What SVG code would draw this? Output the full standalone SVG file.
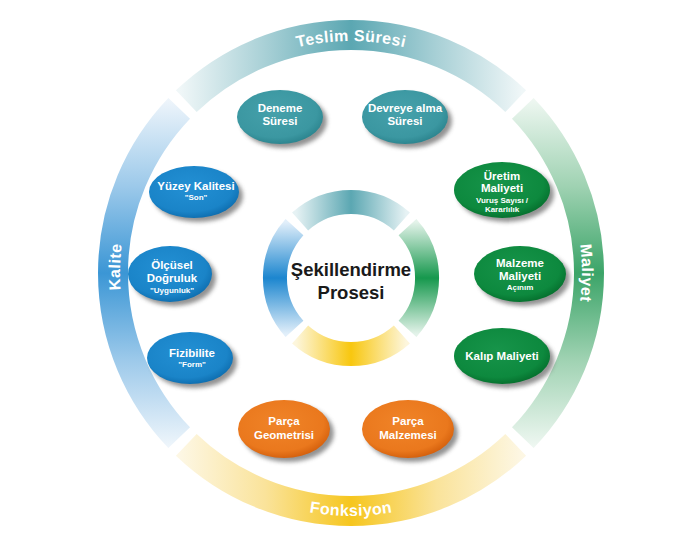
<svg xmlns="http://www.w3.org/2000/svg" xmlns:xlink="http://www.w3.org/1999/xlink" width="700" height="540" viewBox="0 0 700 540">
<style>
.ring{fill:none;stroke-width:30}
.iring{fill:none;stroke-width:24}
.rl{font-family:"Liberation Sans",Arial,sans-serif;font-weight:bold;font-size:16px;fill:#ffffff;letter-spacing:0.4px}
.t{font-family:"Liberation Sans",Arial,sans-serif;font-weight:bold;font-size:11.5px;fill:#ffffff;text-anchor:middle}
.s{font-family:"Liberation Sans",Arial,sans-serif;font-weight:bold;font-size:8px;fill:#ffffff;text-anchor:middle}
.c{font-family:"Liberation Sans",Arial,sans-serif;font-weight:bold;font-size:18.5px;fill:#1a1a1a;text-anchor:middle}
.sh{fill:#6e6e6e;opacity:0.75;filter:url(#blur)}
</style>
<defs>
<filter id="blur" x="-20%" y="-20%" width="140%" height="140%"><feGaussianBlur stdDeviation="2"/></filter>
<linearGradient id="gTop" gradientUnits="userSpaceOnUse" x1="180" y1="0" x2="522" y2="0">
<stop offset="0" stop-color="#f0f7f8"/><stop offset="0.25" stop-color="#a8d0d6"/><stop offset="0.5" stop-color="#5ba7b2"/><stop offset="0.75" stop-color="#a8d0d6"/><stop offset="1" stop-color="#f0f7f8"/>
</linearGradient>
<linearGradient id="gLeft" gradientUnits="userSpaceOnUse" x1="0" y1="100" x2="0" y2="446">
<stop offset="0" stop-color="#eef5fb"/><stop offset="0.25" stop-color="#9cc9ea"/><stop offset="0.5" stop-color="#3b96d5"/><stop offset="0.75" stop-color="#9cc9ea"/><stop offset="1" stop-color="#eef5fb"/>
</linearGradient>
<linearGradient id="gRight" gradientUnits="userSpaceOnUse" x1="0" y1="100" x2="0" y2="446">
<stop offset="0" stop-color="#eef7f1"/><stop offset="0.25" stop-color="#9fd2b2"/><stop offset="0.5" stop-color="#3ba468"/><stop offset="0.75" stop-color="#9fd2b2"/><stop offset="1" stop-color="#eef7f1"/>
</linearGradient>
<linearGradient id="gBot" gradientUnits="userSpaceOnUse" x1="180" y1="0" x2="522" y2="0">
<stop offset="0" stop-color="#fdf7e4"/><stop offset="0.25" stop-color="#fae39a"/><stop offset="0.5" stop-color="#f6c61e"/><stop offset="0.75" stop-color="#fae39a"/><stop offset="1" stop-color="#fdf7e4"/>
</linearGradient>
<linearGradient id="iTop" gradientUnits="userSpaceOnUse" x1="296" y1="0" x2="406" y2="0">
<stop offset="0" stop-color="#e6f2f4"/><stop offset="0.5" stop-color="#5ba7b2"/><stop offset="1" stop-color="#e6f2f4"/>
</linearGradient>
<linearGradient id="iLeft" gradientUnits="userSpaceOnUse" x1="0" y1="222" x2="0" y2="334">
<stop offset="0" stop-color="#e2effa"/><stop offset="0.5" stop-color="#1c86cf"/><stop offset="1" stop-color="#e2effa"/>
</linearGradient>
<linearGradient id="iRight" gradientUnits="userSpaceOnUse" x1="0" y1="222" x2="0" y2="334">
<stop offset="0" stop-color="#e4f3ea"/><stop offset="0.5" stop-color="#16984d"/><stop offset="1" stop-color="#e4f3ea"/>
</linearGradient>
<linearGradient id="iBot" gradientUnits="userSpaceOnUse" x1="296" y1="0" x2="406" y2="0">
<stop offset="0" stop-color="#fdf6dc"/><stop offset="0.5" stop-color="#f8c70f"/><stop offset="1" stop-color="#fdf6dc"/>
</linearGradient>
<radialGradient id="eTeal" cx="0.45" cy="0.4" r="0.6"><stop offset="0" stop-color="#46a1ab"/><stop offset="0.8" stop-color="#3b97a1"/><stop offset="1" stop-color="#2d8690"/></radialGradient>
<radialGradient id="eBlue" cx="0.45" cy="0.4" r="0.6"><stop offset="0" stop-color="#2390d4"/><stop offset="0.8" stop-color="#1a84c8"/><stop offset="1" stop-color="#0f70b2"/></radialGradient>
<radialGradient id="eGreen" cx="0.45" cy="0.4" r="0.6"><stop offset="0" stop-color="#17944a"/><stop offset="0.8" stop-color="#0d893e"/><stop offset="1" stop-color="#06722f"/></radialGradient>
<radialGradient id="eOrange" cx="0.45" cy="0.4" r="0.6"><stop offset="0" stop-color="#f08428"/><stop offset="0.8" stop-color="#ea781d"/><stop offset="1" stop-color="#d6620e"/></radialGradient>
<path id="pTop" d="M133,193.7 A232,232 0 0 1 569,193.7"/>
<path id="pBot" d="M122.7,356.1 A243,243 0 0 0 579.3,356.1"/>
<path id="pLeft" d="M202.5,449.9 A231,231 0 0 1 202.5,96.1"/>
<path id="pRight" d="M499.5,96.1 A231,231 0 0 1 499.5,449.9"/>
</defs>
<rect width="700" height="540" fill="#ffffff"/>

<g id="outer-ring">
<path class="ring" stroke="url(#gTop)" d="M186.3,101.2 A238,238 0 0 1 515.7,101.2"/>
<path class="ring" stroke="url(#gRight)" d="M522.8,108.3 A238,238 0 0 1 522.8,437.7"/>
<path class="ring" stroke="url(#gBot)" d="M515.7,444.8 A238,238 0 0 1 186.3,444.8"/>
<path class="ring" stroke="url(#gLeft)" d="M179.2,437.7 A238,238 0 0 1 179.2,108.3"/>
<text class="rl"><textPath href="#pTop" startOffset="50%" text-anchor="middle">Teslim Süresi</textPath></text>
<text class="rl"><textPath href="#pBot" startOffset="50%" text-anchor="middle">Fonksiyon</textPath></text>
<text class="rl"><textPath href="#pLeft" startOffset="51.5%" text-anchor="middle">Kalite</textPath></text>
<text class="rl"><textPath href="#pRight" startOffset="50%" text-anchor="middle">Maliyet</textPath></text>
</g>

<g id="center">
<path class="iring" stroke="url(#iTop)" d="M300.1,221.5 A76,76 0 0 1 401.9,221.5"/>
<path class="iring" stroke="url(#iRight)" d="M407.5,227.1 A76,76 0 0 1 407.5,328.9"/>
<path class="iring" stroke="url(#iBot)" d="M401.9,334.5 A76,76 0 0 1 300.1,334.5"/>
<path class="iring" stroke="url(#iLeft)" d="M294.5,328.9 A76,76 0 0 1 294.5,227.1"/>
<text class="c" x="351" y="276">Şekillendirme</text>
<text class="c" x="351" y="299">Prosesi</text>
</g>

<g id="deneme">
<ellipse class="sh" cx="284" cy="121" rx="43" ry="27"/>
<ellipse cx="280" cy="117" rx="43" ry="27" fill="url(#eTeal)"/>
<text class="t" x="280" y="112">Deneme</text>
<text class="t" x="280" y="125">Süresi</text>
</g>
<g id="devreye">
<ellipse class="sh" cx="409" cy="121" rx="43" ry="27"/>
<ellipse cx="405" cy="117" rx="43" ry="27" fill="url(#eTeal)"/>
<text class="t" x="405" y="112">Devreye alma</text>
<text class="t" x="405" y="125">Süresi</text>
</g>

<g id="yuzey">
<ellipse class="sh" cx="198" cy="196" rx="45" ry="26"/>
<ellipse cx="194" cy="192" rx="45" ry="26" fill="url(#eBlue)"/>
<text class="t" x="196" y="190">Yüzey Kalitesi</text>
<text class="s" x="196" y="200">"Son"</text>
</g>
<g id="olcusel">
<ellipse class="sh" cx="174" cy="278" rx="42" ry="28"/>
<ellipse cx="170" cy="274" rx="42" ry="28" fill="url(#eBlue)"/>
<text class="t" x="172" y="269">Ölçüsel</text>
<text class="t" x="172" y="282">Doğruluk</text>
<text class="s" x="172" y="293">"Uygunluk"</text>
</g>
<g id="fizibilite">
<ellipse class="sh" cx="194" cy="362" rx="43" ry="26"/>
<ellipse cx="190" cy="358" rx="43" ry="26" fill="url(#eBlue)"/>
<text class="t" x="192" y="357">Fizibilite</text>
<text class="s" x="192" y="367">"Form"</text>
</g>

<g id="uretim">
<ellipse class="sh" cx="506" cy="194" rx="48" ry="28"/>
<ellipse cx="502" cy="190" rx="48" ry="28" fill="url(#eGreen)"/>
<text class="t" x="502" y="180">Üretim</text>
<text class="t" x="502" y="192">Maliyeti</text>
<text class="s" x="502" y="203">Vuruş Sayısı /</text>
<text class="s" x="502" y="212">Kararlılık</text>
</g>
<g id="malzeme-maliyeti">
<ellipse class="sh" cx="524" cy="278" rx="46" ry="28"/>
<ellipse cx="520" cy="274" rx="46" ry="28" fill="url(#eGreen)"/>
<text class="t" x="520" y="267">Malzeme</text>
<text class="t" x="520" y="280">Maliyeti</text>
<text class="s" x="520" y="290">Açınım</text>
</g>
<g id="kalip">
<ellipse class="sh" cx="506" cy="360" rx="48" ry="28"/>
<ellipse cx="502" cy="356" rx="48" ry="28" fill="url(#eGreen)"/>
<text class="t" x="502" y="360">Kalıp Maliyeti</text>
</g>

<g id="parca-geometrisi">
<ellipse class="sh" cx="288" cy="433" rx="46" ry="29"/>
<ellipse cx="284" cy="429" rx="46" ry="29" fill="url(#eOrange)"/>
<text class="t" x="284" y="425">Parça</text>
<text class="t" x="284" y="439">Geometrisi</text>
</g>
<g id="parca-malzemesi">
<ellipse class="sh" cx="412" cy="433" rx="46" ry="29"/>
<ellipse cx="408" cy="429" rx="46" ry="29" fill="url(#eOrange)"/>
<text class="t" x="408" y="425">Parça</text>
<text class="t" x="408" y="439">Malzemesi</text>
</g>
</svg>
